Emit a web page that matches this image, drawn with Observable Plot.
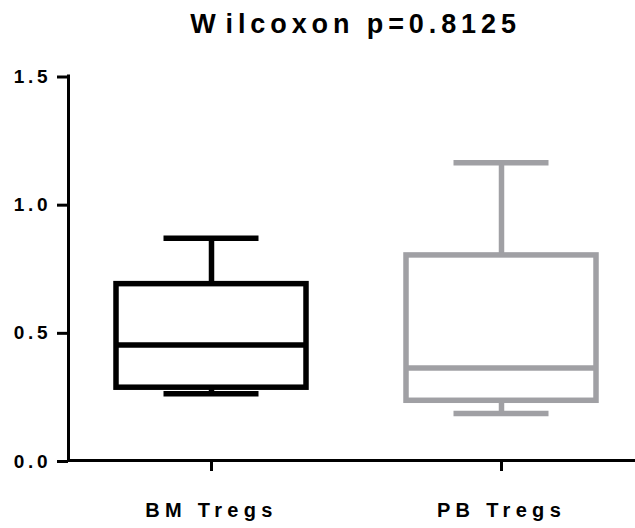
<!DOCTYPE html>
<html>
<head>
<meta charset="utf-8">
<script src="https://cdn.jsdelivr.net/npm/d3@7"></script>
<script src="https://cdn.jsdelivr.net/npm/@observablehq/plot@0.6"></script>
<style>
  html, body { margin: 0; padding: 0; background: #fff; }
  #title {
    height: 50px; box-sizing: border-box; padding-top: 11px; padding-left: 76px;
    width: 635px; text-align: center;
    font: bold 27px "Liberation Sans", Arial, sans-serif; line-height: 26px;
    letter-spacing: 4.9px; color: #000; white-space: nowrap;
  }
  #title .w { margin-right: 5px; }
  #chart svg g[aria-label="y-axis tick label"] text { letter-spacing: 3.8px; }
  #chart svg g[aria-label="x-axis tick label"] text { letter-spacing: 5.3px; }
</style>
</head>
<body>
<div id="title"><span class="w">W</span>ilcoxon p=0.8125</div>
<div id="chart"></div>
<script>
const groups  = ["BM Tregs", "PB Tregs"];
const mins    = [0.26, 0.183];
const q1s     = [0.284, 0.233];
const medians = [0.451, 0.361];
const q3s     = [0.688, 0.800];
const maxs    = [0.867, 1.162];
const colors  = ["#000000", "#a0a0a4"];
const yTicks  = [0, 0.5, 1.0, 1.5];

const data = groups.map((g, i) => ({
  group: g, min: mins[i], q1: q1s[i], median: medians[i], q3: q3s[i], max: maxs[i], color: colors[i]
}));

const SW = 5.5;
const font = "'Liberation Sans', Arial, sans-serif";
const chart = Plot.plot({
  width: 635,
  height: 478,
  marginLeft: 68,
  marginRight: 0,
  marginTop: 25.5,
  marginBottom: 68,
  style: { fontFamily: font, color: "#000", background: "#fff" },
  x: { domain: groups, paddingInner: 0.345, paddingOuter: 0.15, align: 0.546 },
  y: { domain: [0, 1.5] },
  marks: [
    Plot.axisY({ ticks: yTicks, tickFormat: d3.format(".1f"), tickSize: 11, tickPadding: 6,
                 strokeWidth: 3, fontSize: 19, fontWeight: "bold", label: null, dy: 1 }),
    Plot.axisX({ tickSize: 11, tickPadding: 31, strokeWidth: 3, fontSize: 20, fontWeight: "bold", label: null }),
    Plot.frame({ anchor: "left", strokeWidth: 3 }),
    Plot.ruleY([0], { strokeWidth: 3 }),
    Plot.ruleX(data, { x: "group", y1: "q3", y2: "max", stroke: "color", strokeWidth: SW }),
    Plot.ruleX(data, { x: "group", y1: "min", y2: "q1", stroke: "color", strokeWidth: SW }),
    Plot.tickY(data, { x: "group", y: "max", stroke: "color", strokeWidth: SW, insetLeft: 47.5, insetRight: 47.5 }),
    Plot.tickY(data, { x: "group", y: "min", stroke: "color", strokeWidth: SW, insetLeft: 47.5, insetRight: 47.5 }),
    Plot.barY(data, { x: "group", y1: "q1", y2: "q3", fill: "white", stroke: "color", strokeWidth: SW }),
    Plot.tickY(data, { x: "group", y: "median", stroke: "color", strokeWidth: SW })
  ]
});
document.getElementById("chart").appendChild(chart);
</script>
</body>
</html>
